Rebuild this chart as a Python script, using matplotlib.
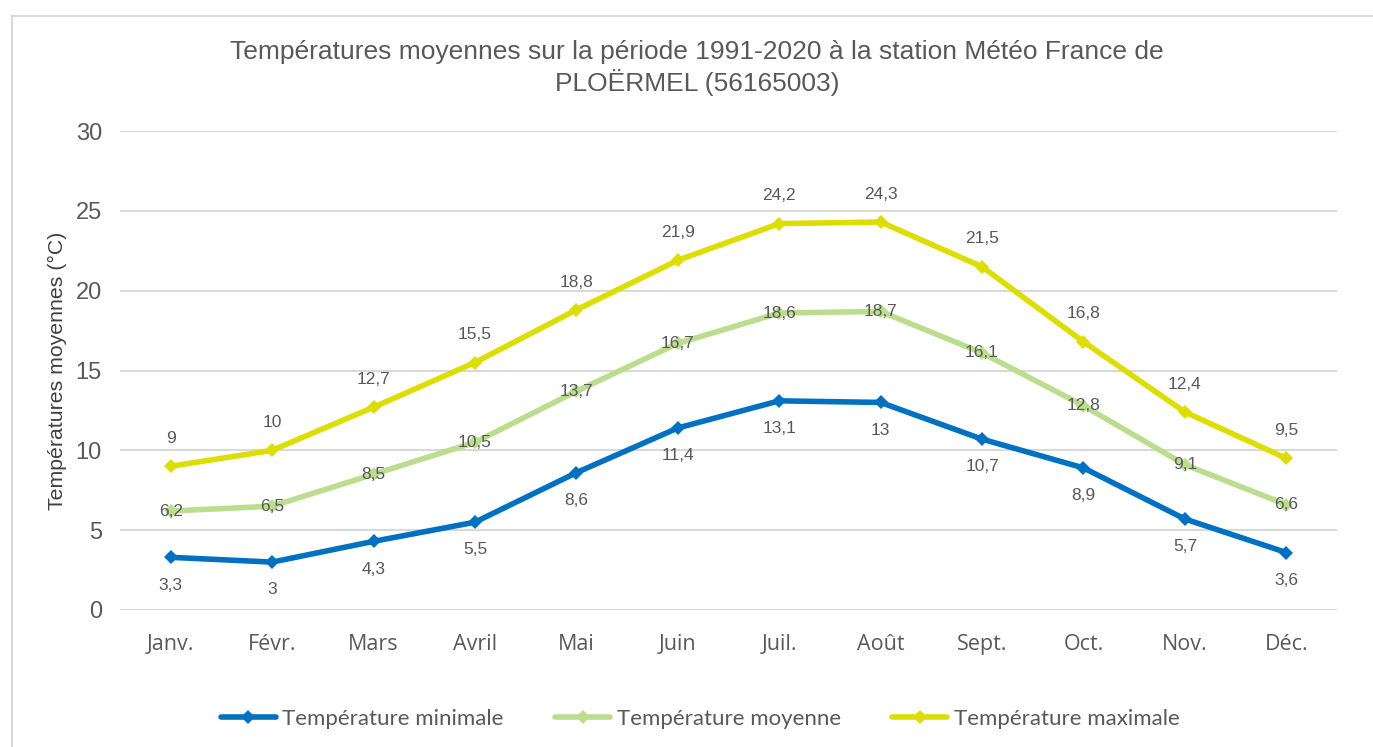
import matplotlib
matplotlib.use("Agg")
import matplotlib.pyplot as plt
from matplotlib.patches import Rectangle

months = ["Janv.", "Févr.", "Mars", "Avril", "Mai", "Juin", "Juil.", "Août", "Sept.", "Oct.", "Nov.", "Déc."]
t_min = [3.3, 3.0, 4.3, 5.5, 8.6, 11.4, 13.1, 13.0, 10.7, 8.9, 5.7, 3.6]
t_moy = [6.2, 6.5, 8.5, 10.5, 13.7, 16.7, 18.6, 18.7, 16.1, 12.8, 9.1, 6.6]
t_max = [9.0, 10.0, 12.7, 15.5, 18.8, 21.9, 24.2, 24.3, 21.5, 16.8, 12.4, 9.5]
series_names = ["Température minimale", "Température moyenne", "Température maximale"]
title = "Températures moyennes sur la période 1991-2020 à la station Météo France de\nPLOËRMEL (56165003)"
ylabel = "Températures moyennes (°C)"
yticks = [0, 5, 10, 15, 20, 25, 30]

plt.rcParams['font.family'] = ['Liberation Sans', 'DejaVu Sans']

W, H = 1373, 747
fig = plt.figure(figsize=(W / 100, H / 100), dpi=100)
fig.patch.set_facecolor("white")

# outer chart border (cropped on right/bottom)
fig.patches.append(Rectangle((12 / W, -0.05), 1.2, (H - 16) / H + 0.05, transform=fig.transFigure,
                             fill=False, edgecolor="#D9D9D9", linewidth=1.5, zorder=0))

ax = fig.add_axes([120 / W, (H - 610) / H, (1337 - 120) / W, (610 - 131) / H])
x = list(range(len(months)))

colors = ["#0070C0", "#BADE8D", "#DDDD00"]
data = [t_min, t_moy, t_max]
text_color = "#595959"

def fmt(v):
    return ("%g" % v).replace(".", ",")

for vals, c, name, pos in zip(data, colors, series_names, ["below", "center", "above"]):
    ax.plot(x, vals, color=c, linewidth=4, marker="D", markersize=7.5, markeredgewidth=0,
            label=name, solid_capstyle="round", zorder=3)
    dy = {"below": -20, "above": 20, "center": 0}[pos]
    for xi, v in zip(x, vals):
        ax.annotate(fmt(v), (xi, v), xytext=(0, dy), textcoords="offset points",
                    ha="center", va="center", fontsize=12.5, color=text_color, zorder=4)

ax.set_xlim(-0.5, len(months) - 0.5)
ax.set_ylim(0, 30)
ax.set_yticks(yticks)
ax.set_yticklabels([str(t) for t in yticks], fontsize=17, color=text_color)
ax.set_xticks(x)
ax.set_xticklabels(months, fontsize=15.5, color=text_color, family=['Open Sans', 'DejaVu Sans'])
ax.tick_params(axis="both", length=0)
ax.tick_params(axis="y", pad=13)
ax.tick_params(axis="x", pad=17)
ax.grid(axis="y", color="#D9D9D9", linewidth=1.5)
ax.set_axisbelow(True)
for s in ax.spines.values():
    s.set_visible(False)

fig.text(57 / W, 1 - 371 / H, ylabel, rotation=90, ha="center", va="center",
         fontsize=15.3, color="#404040")
fig.text(697 / W, 1 - 68 / H, title, ha="center", va="center", fontsize=19,
         color=text_color, linespacing=1.25)

leg = fig.legend(loc="center", bbox_to_anchor=(700 / W, 1 - 719 / H), ncol=3, frameon=False,
                 prop={'family': ['Lato', 'Liberation Sans'], 'size': 16},
                 handlelength=2.5, columnspacing=2.3, handletextpad=0.28)
for t in leg.get_texts():
    t.set_color(text_color)

fig.savefig("out.png", dpi=100, facecolor="white")
